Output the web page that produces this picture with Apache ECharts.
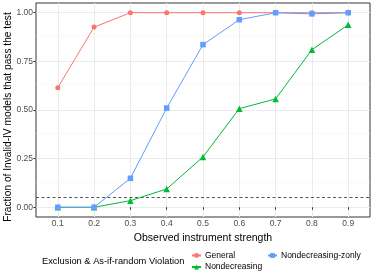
<!DOCTYPE html>
<html><head><meta charset="utf-8">
<script src="https://cdn.jsdelivr.net/npm/echarts@6/dist/echarts.min.js"></script>
<style>html,body{margin:0;padding:0;background:#fff}#c{width:374px;height:280px}</style>
</head><body><div id="c"></div>
<script>
const strengths = [0.1, 0.2, 0.3, 0.4, 0.5, 0.6, 0.7, 0.8, 0.9];
const general = [0.615, 0.926, 1.0, 1.0, 1.0, 1.0, 1.0, 1.0, 1.0];
const nondecreasing = [0.0, 0.0, 0.034, 0.094, 0.259, 0.507, 0.557, 0.81, 0.938];
const nondecreasingZonly = [0.0, 0.0, 0.149, 0.51, 0.836, 0.964, 1.0, 0.994, 1.0];
const yTicks = [0, 0.25, 0.5, 0.75, 1.0];
const yMinor = [0.125, 0.375, 0.625, 0.875];
const threshold = 0.05;
const seriesNames = ['General', 'Nondecreasing', 'Nondecreasing-zonly'];
const colors = ['#F8766D', '#00BA38', '#619CFF'];
const symbols = ['circle', 'triangle', 'rect'];
const symbolSizes = [5, 6.5, 5.5];
const values = [general, nondecreasing, nondecreasingZonly];
const yTitle = 'Fraction of Invalid-IV models that pass the test';
const xTitle = 'Observed instrument strength';
const legendTitle = 'Exclusion & As-if-random Violation';

const font = 'Liberation Sans, Arial, sans-serif';
const chart = echarts.init(document.getElementById('c'), null, {renderer: 'canvas'});

const gridLines = [];
yMinor.forEach(v => gridLines.push({yAxis: v, lineStyle: {color: '#F5F5F5', width: 0.6, type: 'solid'}}));
yTicks.forEach(v => gridLines.push({yAxis: v, lineStyle: {color: '#EBEBEB', width: 1, type: 'solid'}}));
strengths.forEach(v => gridLines.push({xAxis: v, lineStyle: {color: '#EBEBEB', width: 1, type: 'solid'}}));

const series = [{
  type: 'line', name: '_grid', data: [], z: 0, silent: true,
  markLine: {z: 0, silent: true, symbol: ['none', 'none'], label: {show: false}, animation: false, data: gridLines}
}];
seriesNames.forEach((n, i) => {
  series.push({
    type: 'line', name: n, z: 3 + i,
    data: strengths.map((s, j) => [s, values[i][j]]),
    symbol: symbols[i], symbolSize: symbolSizes[i], showSymbol: true,
    itemStyle: {color: colors[i], borderWidth: 0},
    lineStyle: {color: colors[i], width: 1},
    animation: false
  });
});
series.push({
  type: 'line', name: '_thr', data: [], z: 1, silent: true,
  markLine: {z: 1, silent: true, symbol: ['none', 'none'], label: {show: false}, animation: false,
    data: [{yAxis: threshold, lineStyle: {color: '#555555', width: 1, type: [3, 2.5]}}]}
});

chart.setOption({
  animation: false,
  backgroundColor: '#fff',
  grid: {left: 36, right: 4, top: 3, bottom: 63, show: true, borderColor: '#333333', borderWidth: 1,
    backgroundColor: 'transparent', containLabel: false, outerBoundsMode: 'none'},
  xAxis: {
    type: 'value', min: 0.04, max: 0.96,
    name: xTitle, nameLocation: 'middle', nameGap: 10,
    nameTextStyle: {fontFamily: font, fontSize: 10.5, color: '#000'},
    axisLine: {show: false},
    axisTick: {show: true, length: 2.5, customValues: strengths, lineStyle: {color: '#333333', width: 1}},
    axisLabel: {customValues: strengths, formatter: v => v.toFixed(1), fontFamily: font, fontSize: 8.5, color: '#4D4D4D', margin: 2},
    splitLine: {show: false}
  },
  yAxis: {
    type: 'value', min: -0.05, max: 1.05,
    axisLine: {show: false},
    axisTick: {show: true, length: 2.5, customValues: yTicks, lineStyle: {color: '#333333', width: 1}},
    axisLabel: {customValues: yTicks, formatter: v => v.toFixed(2), fontFamily: font, fontSize: 8.5, color: '#4D4D4D', margin: 3},
    splitLine: {show: false}
  },
  legend: [{
    data: ['General', 'Nondecreasing'], orient: 'vertical', left: 191, top: 251, padding: 0,
    itemWidth: 9, itemHeight: 6, itemGap: 2.5,
    textStyle: {fontFamily: font, fontSize: 8.5, color: '#000', padding: [0, 0, 0, -1]}
  }, {
    data: ['Nondecreasing-zonly'], orient: 'vertical', left: 267, top: 251, padding: 0,
    itemWidth: 9, itemHeight: 6, itemGap: 2.5,
    textStyle: {fontFamily: font, fontSize: 8.5, color: '#000', padding: [0, 0, 0, -1]}
  }],
  graphic: [{
    type: 'text', left: 42, top: 256.5,
    style: {text: legendTitle, font: '9.3px ' + font, fill: '#000'}
  }, {
    type: 'text', x: 8, y: 117, rotation: Math.PI / 2,
    style: {text: yTitle, font: '10.2px ' + font, fill: '#000', align: 'center', verticalAlign: 'middle'}
  }],
  series: series
});
</script></body></html>
